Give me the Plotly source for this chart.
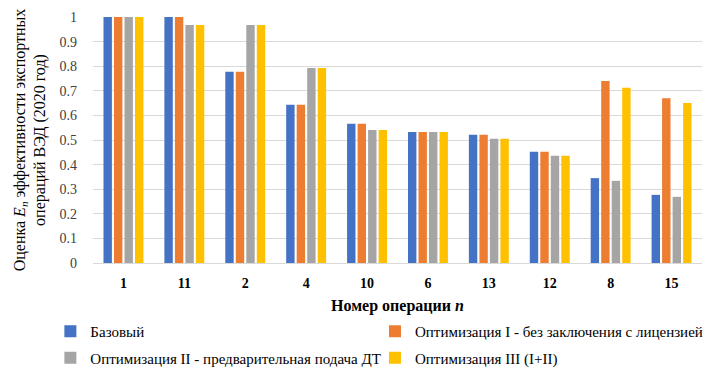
import plotly.graph_objects as go

categories = ["1", "11", "2", "4", "10", "6", "13", "12", "8", "15"]
series_names = [
    "Базовый",
    "Оптимизация I - без заключения с лицензией",
    "Оптимизация II - предварительная подача ДТ",
    "Оптимизация III (I+II)",
]
base = [1.0, 1.0, 0.777, 0.643, 0.566, 0.533, 0.521, 0.452, 0.345, 0.277]
opt1 = [1.0, 1.0, 0.777, 0.643, 0.566, 0.533, 0.521, 0.452, 0.740, 0.670]
opt2 = [1.0, 0.967, 0.967, 0.793, 0.541, 0.533, 0.505, 0.436, 0.334, 0.269]
opt3 = [1.0, 0.967, 0.967, 0.793, 0.541, 0.533, 0.505, 0.436, 0.712, 0.650]
colors = ["#4472C4", "#ED7D31", "#A5A5A5", "#FFC000"]
legend_ids = ["legend", "legend2", "legend", "legend2"]

FONT = "Times New Roman, Liberation Serif, serif"

fig = go.Figure()
for i, (name, vals, col, lg) in enumerate(zip(series_names, [base, opt1, opt2, opt3], colors, legend_ids)):
    fig.add_trace(go.Bar(x=categories, y=vals, name=name, marker_color=col,
                         marker_line_width=0, legend=lg, legendgroup="g%d" % i))

leg_common = dict(orientation="v", yref="container", y=0.1635, yanchor="top",
                  xref="paper", xanchor="left", tracegroupgap=4,
                  font=dict(size=15, family=FONT, color="#000"),
                  bgcolor="rgba(0,0,0,0)", itemclick=False, itemdoubleclick=False)

# page body adds an 8px offset, so the figure is 8px smaller than the window
fig.update_layout(
    width=717, height=367,
    margin=dict(l=85, r=23, t=9, b=112),
    paper_bgcolor="white", plot_bgcolor="white",
    barmode="group", bargap=0.31, bargroupgap=0.2,
    font=dict(family=FONT, size=14, color="#000000"),
    legend=dict(x=-0.070, **leg_common),
    legend2=dict(x=0.463, **leg_common),
    showlegend=True,
)
fig.update_xaxes(
    type="category", showgrid=False, showline=True, linecolor="#d9d9d9", linewidth=1,
    automargin=False, ticklabelstandoff=7,
    tickfont=dict(family=FONT, size=14, color="#000"),
    ticktext=["<b>" + c + "</b>" for c in categories], tickvals=categories,
    title=dict(text="<b>Номер операции <i>n</i></b>", font=dict(size=16, family=FONT), standoff=17),
)
fig.update_yaxes(
    range=[0, 1], dtick=0.1, showgrid=True, gridcolor="#d9d9d9", gridwidth=1,
    zeroline=False, showline=False, ticklabelstandoff=15, automargin=False,
    tickfont=dict(family=FONT, size=14, color="#404040"),
    title=dict(text="Оценка <i>E<sub>n</sub></i> эффективности экспортных<br>операций ВЭД (2020 год)",
               font=dict(size=16, family=FONT), standoff=9),
)

fig.write_html("out.html")
